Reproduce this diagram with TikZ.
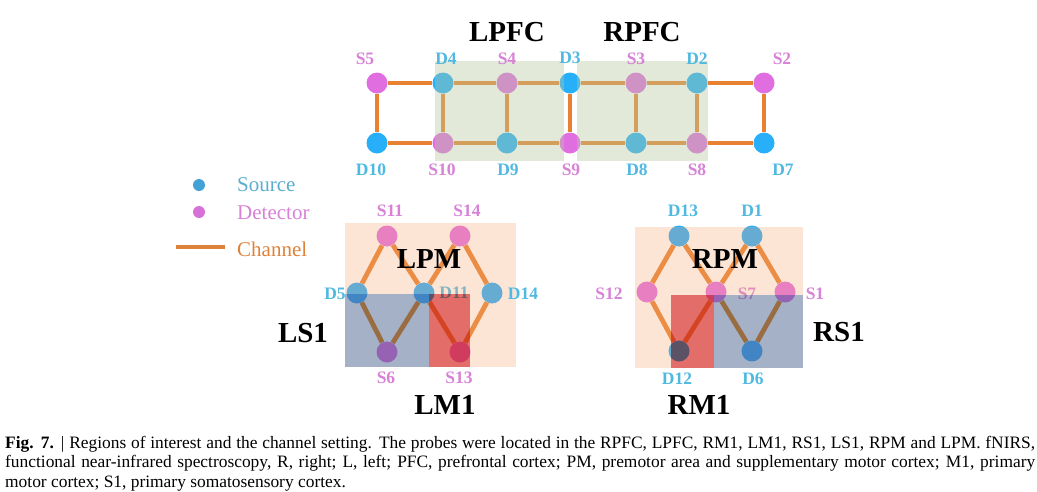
\documentclass[tikz,border=0pt]{standalone}
\usepackage{fontspec}
\setmainfont{Liberation Serif}
\usetikzlibrary{positioning,backgrounds}
\definecolor{srcblue}{RGB}{40,175,250}
\definecolor{detpink}{RGB}{225,110,225}
\definecolor{chanorange}{RGB}{232,130,50}
\definecolor{srctext}{RGB}{80,185,225}
\definecolor{dettext}{RGB}{215,130,215}
\definecolor{pfcgreen}{RGB}{182,200,157}
\definecolor{pmorange}{RGB}{248,168,118}
\definecolor{sonebl}{RGB}{166,198,238}
\definecolor{monered}{RGB}{230,122,125}

\begin{document}
\begin{tikzpicture}[
  x=1pt, y=-1pt, on grid,
  src/.style={circle, fill=srcblue, minimum size=21pt, inner sep=0pt},
  det/.style={circle, fill=detpink, minimum size=21pt, inner sep=0pt},
  srclab/.style={text=srctext, font=\fontsize{17.5}{20}\selectfont\bfseries, inner sep=0pt},
  detlab/.style={text=dettext, font=\fontsize{17.5}{20}\selectfont\bfseries, inner sep=0pt},
  region/.style={text=black, font=\fontsize{29}{32}\selectfont\bfseries, inner sep=0pt},
  legend/.style={font=\fontsize{21}{24}\selectfont, anchor=west, inner sep=0pt},
  chan/.style={draw=chanorange, line width=4.8pt}
]
  \useasboundingbox (0,0) rectangle (1037,491);

  % prefrontal probes
  \node[det] (s5) at (377,83) {};
  \node[src, right=66pt of s5] (d4) {};
  \node[det, right=64pt of d4] (s4) {};
  \node[src, right=63pt of s4] (d3) {};
  \node[det, right=66pt of d3] (s3) {};
  \node[src, right=61pt of s3] (d2) {};
  \node[det, right=67pt of d2] (s2) {};
  \node[src, below=60pt of s5] (d10) {};
  \node[det, below=60pt of d4] (s10) {};
  \node[src, below=60pt of s4] (d9) {};
  \node[det, below=60pt of d3] (s9) {};
  \node[src, below=60pt of s3] (d8) {};
  \node[det, below=60pt of d2] (s8) {};
  \node[src, below=60pt of s2] (d7) {};

  % left motor probes
  \node[det] (s11) at (387,236) {};
  \node[det, right=73pt of s11] (s14) {};
  \node[src] (d5) at (357,293) {};
  \node[src, right=67pt of d5] (d11) {};
  \node[src, right=68pt of d11] (d14) {};
  \node[det, below=116pt of s11] (s6) {};
  \node[det, below=116pt of s14] (s13) {};

  % right motor probes
  \node[src] (d13) at (679,236) {};
  \node[src, right=73pt of d13] (d1) {};
  \node[det] (s12) at (647,292) {};
  \node[det, right=69pt of s12] (s7) {};
  \node[det, right=69pt of s7] (s1) {};
  \node[src, below=115pt of d13] (d12) {};
  \node[src, below=115pt of d1] (d6) {};

  \node[srclab, right=30pt of d11] (d11lab) {D11};
  \node[detlab, right=31pt of s7, yshift=-2pt] (s7lab) {S7};

  \begin{scope}[on background layer]
    \foreach \a/\b in {s5/d4,d4/s4,s4/d3,d3/s3,s3/d2,d2/s2,d10/s10,s10/d9,d9/s9,s9/d8,d8/s8,s8/d7,
      s5/d10,d4/s10,s4/d9,d3/s9,s3/d8,d2/s8,s2/d7,
      s11/d5,s11/d11,s14/d11,s14/d14,d5/s6,d11/s6,d11/s13,d14/s13,
      d13/s12,d13/s7,d1/s7,d1/s1,s12/d12,s7/d12,s7/d6,s1/d6}
      \draw[chan] (\a) -- (\b);
  \end{scope}

  \fill[pfcgreen, opacity=0.4] (435,61) rectangle (564,161);
  \fill[pfcgreen, opacity=0.4] (577,61) rectangle (708,161);
  \fill[pmorange, opacity=0.3] (345,223) rectangle (516,367);
  \fill[pmorange, opacity=0.3] (635,227) rectangle (803,368);
  \fill[sonebl, blend mode=multiply] (345,294) rectangle (429,367);
  \fill[monered, blend mode=multiply] (429,294) rectangle (470,367);
  \fill[monered, blend mode=multiply] (671,295) rectangle (714,368);
  \fill[sonebl, blend mode=multiply] (714,295) rectangle (803,368);

  \node[detlab, above=24pt of s5, xshift=-12pt] (s5lab) {S5};
  \node[srclab, above=24pt of d4, xshift=3pt] (d4lab) {D4};
  \node[detlab, above=24pt of s4] (s4lab) {S4};
  \node[srclab, above=25pt of d3] (d3lab) {D3};
  \node[detlab, above=24pt of s3] (s3lab) {S3};
  \node[srclab, above=24pt of d2] (d2lab) {D2};
  \node[detlab, above=24pt of s2, xshift=18pt] (s2lab) {S2};
  \node[srclab, below=27pt of d10, xshift=-6pt] (d10lab) {D10};
  \node[detlab, below=27pt of s10, xshift=-1pt] (s10lab) {S10};
  \node[srclab, below=27pt of d9, xshift=1pt] (d9lab) {D9};
  \node[detlab, below=27pt of s9, xshift=1pt] (s9lab) {S9};
  \node[srclab, below=27pt of d8, xshift=1pt] (d8lab) {D8};
  \node[detlab, below=27pt of s8] (s8lab) {S8};
  \node[srclab, below=27pt of d7, xshift=19pt] (d7lab) {D7};

  \node[detlab, above=25pt of s11, xshift=3pt] (s11lab) {S11};
  \node[detlab, above=25pt of s14, xshift=7pt] (s14lab) {S14};
  \node[srclab, left=22pt of d5, yshift=-1pt] (d5lab) {D5};
  \node[srclab, right=31pt of d14, yshift=-1pt] (d14lab) {D14};
  \node[detlab, below=26pt of s6, xshift=-1pt] (s6lab) {S6};
  \node[detlab, below=26pt of s13, xshift=-1pt] (s13lab) {S13};

  \node[srclab, above=25pt of d13, xshift=4pt] (d13lab) {D13};
  \node[srclab, above=25pt of d1] (d1lab) {D1};
  \node[detlab, left=38pt of s12, yshift=-2pt] (s12lab) {S12};
  \node[detlab, right=30pt of s1, yshift=-2pt] (s1lab) {S1};
  \node[srclab, below=28pt of d12, xshift=-2pt] (d12lab) {D12};
  \node[srclab, below=28pt of d6, xshift=1pt] (d6lab) {D6};

  \node[region] (lpfc) at (507,32) {LPFC};
  \node[region] (rpfc) at (642,32) {RPFC};
  \node[region] (lpm) at (429,259) {LPM};
  \node[region] (ls1) at (303,333) {LS1};
  \node[region] (lm1) at (445,405) {LM1};
  \node[region] (rpm) at (725,259) {RPM};
  \node[region] (rs1) at (839,332) {RS1};
  \node[region] (rm1) at (699,405) {RM1};

  % legend
  \node[circle, fill=srcblue!70!gray, minimum size=12pt, inner sep=0pt] (srcdot) at (199,185) {};
  \node[circle, fill=detpink!90!gray, minimum size=12pt, inner sep=0pt] (detdot) at (199,212) {};
  \node[legend, text=srctext!80!gray] (srctxt) at (237,185) {Source};
  \node[legend, text=dettext] (dettxt) at (237,213) {Detector};
  \coordinate (chana) at (176,247);
  \coordinate (chanb) at (225,247);
  \draw[chan, draw=chanorange!90!gray] (chana) -- (chanb);
  \node[legend, text=chanorange!90!gray] (chantxt) at (237,249) {Channel};

  \node[anchor=north west, inner sep=0pt, align=left, font=\fontsize{17.4}{19.5}\selectfont] (caption) at (5,436)
    {\makebox[1030pt][s]{\textbf{Fig. 7.} | Regions of interest and the channel setting. The probes were located in the RPFC, LPFC, RM1, LM1, RS1, LS1, RPM and LPM. fNIRS,}\\
     \makebox[1030pt][s]{functional near-infrared spectroscopy, R, right; L, left; PFC, prefrontal cortex; PM, premotor area and supplementary motor cortex; M1, primary}\\
     motor cortex; S1, primary somatosensory cortex.};
\end{tikzpicture}
\end{document}
